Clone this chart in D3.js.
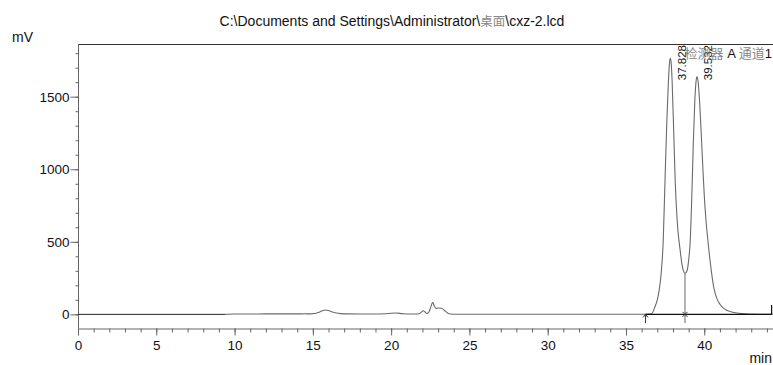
<!DOCTYPE html>
<html>
<head>
<meta charset="utf-8">
<script src="https://cdn.jsdelivr.net/npm/d3@7/dist/d3.min.js"></script>
<style>
  html, body { margin: 0; padding: 0; background: #fff; }
  svg { display: block; }
  text { font-family: "Liberation Sans", Arial, sans-serif; }
</style>
</head>
<body>
<svg id="chart" width="773" height="365"></svg>
<script>
// Detector trace: retention time (min) and signal (mV)
const traceTime = [
  0, 9.4, 9.6, 10, 11, 12, 13, 14, 14.5, 14.8, 15.0, 15.2, 15.4, 15.6, 15.8, 16.0, 16.2, 16.5, 16.8, 17.2,
  18.0, 19.0, 19.6, 20.0, 20.3, 20.7, 21.2, 21.7, 21.9, 22.04, 22.15, 22.28, 22.4, 22.55, 22.65, 22.75,
  22.86, 23.0, 23.22, 23.4, 23.6, 23.8, 24.2, 28, 32, 36.0, 36.25, 36.64, 36.85, 37.0, 37.12, 37.25,
  37.38, 37.5, 37.6, 37.7, 37.78, 37.828, 37.88, 37.95, 38.05, 38.15, 38.3, 38.45, 38.6, 38.77, 38.9,
  39.0, 39.1, 39.2, 39.3, 39.4, 39.48, 39.532, 39.6, 39.7, 39.8, 39.9, 40.0, 40.1, 40.26, 40.45, 40.6,
  40.8, 41.0, 41.2, 41.4, 41.7, 42.0, 42.4, 42.8, 43.5, 44.39
];
const traceMv = [
  0, 0, 1, 2, 2, 3, 3, 3, 4, 3, 5, 8, 15, 25, 30, 26, 18, 9, 5, 3,
  2, 2, 4, 8, 9, 5, 2, 2, 12, 25, 18, 6, 14, 55, 83, 60,
  41, 44, 42, 28, 10, 3, 1, 1, 1, 1, 1, 4, 52, 99, 167, 285,
  512, 950, 1300, 1580, 1735, 1764, 1740, 1600, 1250, 900, 600, 450, 330, 283, 300,
  370, 500, 800, 1180, 1480, 1610, 1637, 1610, 1470, 1260, 1030, 820, 660, 480, 300, 190,
  110, 70, 45, 30, 18, 11, 5, 2, 1, 1
];

// Peak table
const peakTimes = [37.828, 39.532];
const peakHeights = [1764, 1637];
const peakLabels = ["37.828", "39.532"];

// Integration marks
const baselineStart = 36.25;
const peakSplit = 38.77;
const splitMv = 283;
const baselineEnd = 44.3;

// Axis ticks
const yMajorTicks = [0, 500, 1000, 1500];
const yMinorTicks = d3.range(0, 1900, 100);
const xMajorTicks = [0, 5, 10, 15, 20, 25, 30, 35, 40];
const xMinorTicks = d3.range(0, 45, 1);

const svg = d3.select("#chart");
const L = 78, R = 773, T = 44, B = 328;

const x = d3.scaleLinear().domain([0, 44.39]).range([L, R]);
const y = d3.scaleLinear().domain([-94, 1863]).range([B, T]);

// Title
const title = svg.append("text")
  .attr("x", 392).attr("y", 26)
  .attr("text-anchor", "middle")
  .style("font-size", "14px").attr("fill", "#111");
title.append("tspan").text("C:\\Documents and Settings\\Administrator\\");
title.append("tspan").attr("fill", "#888")
  .style("font-family", "'Noto Sans CJK SC', sans-serif").style("font-size", "12.5px").text("桌面");
title.append("tspan").text("\\cxz-2.lcd");

// Unit labels
svg.append("text").attr("x", 12).attr("y", 42)
  .style("font-size", "14px").attr("fill", "#111").text("mV");
svg.append("text").attr("x", 772).attr("y", 363).attr("text-anchor", "end")
  .style("font-size", "14px").attr("fill", "#111").text("min");

// Top frame line
svg.append("line").attr("x1", L).attr("x2", R).attr("y1", T + 0.5).attr("y2", T + 0.5)
  .attr("stroke", "#333").attr("stroke-width", 1);

// Y axis
const yMinor = svg.append("g").attr("transform", `translate(${L + 0.5},0)`)
  .call(d3.axisLeft(y).tickValues(yMinorTicks).tickSize(3).tickSizeOuter(0).tickFormat(""));
const yMajor = svg.append("g").attr("transform", `translate(${L + 0.5},0)`)
  .call(d3.axisLeft(y).tickValues(yMajorTicks).tickSize(8).tickSizeOuter(0).tickPadding(1)
    .tickFormat(d3.format("d")));
yMajor.select(".domain").remove();
yMinor.select(".domain").attr("d", `M0,${T}V${B}`);

// X axis
const xMinor = svg.append("g").attr("transform", `translate(0,${B + 0.5})`)
  .call(d3.axisBottom(x).tickValues(xMinorTicks).tickSize(4).tickSizeOuter(0).tickFormat(""));
const xMajor = svg.append("g").attr("transform", `translate(0,${B + 0.5})`)
  .call(d3.axisBottom(x).tickValues(xMajorTicks).tickSize(7).tickSizeOuter(0).tickPadding(5)
    .tickFormat(d3.format("d")));
xMajor.select(".domain").remove();

svg.selectAll(".domain, .tick line").attr("stroke", "#666");
svg.selectAll(".tick text").attr("fill", "#111")
  .style("font-family", "'Liberation Sans', Arial, sans-serif").style("font-size", "13.5px");

// Trace
const pts = traceTime.map((t, i) => ({ t, v: traceMv[i] }));
const line = d3.line().x(d => x(d.t)).y(d => y(d.v)).curve(d3.curveMonotoneX);

svg.append("path").datum(pts.filter(d => d.t <= 9.4))
  .attr("d", line).attr("fill", "none").attr("stroke", "#222").attr("stroke-width", 1);
svg.append("path").datum(pts.filter(d => d.t >= 9.4))
  .attr("d", line).attr("fill", "none").attr("stroke", "#6a6a6a").attr("stroke-width", 1.1);

// Integration baseline
svg.append("line")
  .attr("x1", x(baselineStart)).attr("x2", x(baselineEnd))
  .attr("y1", y(0)).attr("y2", y(0))
  .attr("stroke", "#111").attr("stroke-width", 1.1);

// Start arrow
const ax = x(baselineStart);
svg.append("line").attr("x1", ax).attr("x2", ax).attr("y1", y(-60)).attr("y2", y(0))
  .attr("stroke", "#333");
svg.append("path").attr("d", `M${ax - 2.5},${y(0) + 3}L${ax},${y(0)}L${ax + 2.5},${y(0) + 3}`)
  .attr("fill", "none").attr("stroke", "#333");

// Perpendicular drop between the peaks
const sx = x(peakSplit);
svg.append("line").attr("x1", sx).attr("x2", sx).attr("y1", y(splitMv)).attr("y2", y(-60))
  .attr("stroke", "#777").attr("stroke-width", 1.1);
svg.append("path").attr("d", `M${sx - 2.5},${y(0) - 2.5}L${sx + 2.5},${y(0) + 2.5}M${sx - 2.5},${y(0) + 2.5}L${sx + 2.5},${y(0) - 2.5}`)
  .attr("stroke", "#333");

// End mark
const ex = x(baselineEnd);
svg.append("line").attr("x1", ex).attr("x2", ex).attr("y1", y(0)).attr("y2", y(65))
  .attr("stroke", "#111").attr("stroke-width", 1.2);

// Peak retention labels
svg.selectAll(".peak-label").data(peakTimes).enter().append("text")
  .attr("class", "peak-label")
  .attr("transform", d => `translate(${x(d) + 15.5},${T + 1}) rotate(-90)`)
  .attr("text-anchor", "end")
  .style("font-size", "11.5px").attr("fill", "#111")
  .text((d, i) => peakLabels[i]);

// Channel caption
const cap = svg.append("text").attr("x", 772).attr("y", 58).attr("text-anchor", "end")
  .style("font-size", "13px").attr("fill", "#111");
cap.append("tspan").attr("fill", "#888").style("font-family", "'Noto Sans CJK SC', sans-serif").text("检测器");
cap.append("tspan").text(" A ");
cap.append("tspan").attr("fill", "#888").style("font-family", "'Noto Sans CJK SC', sans-serif").text("通道");
cap.append("tspan").text("1");
</script>
</body>
</html>
